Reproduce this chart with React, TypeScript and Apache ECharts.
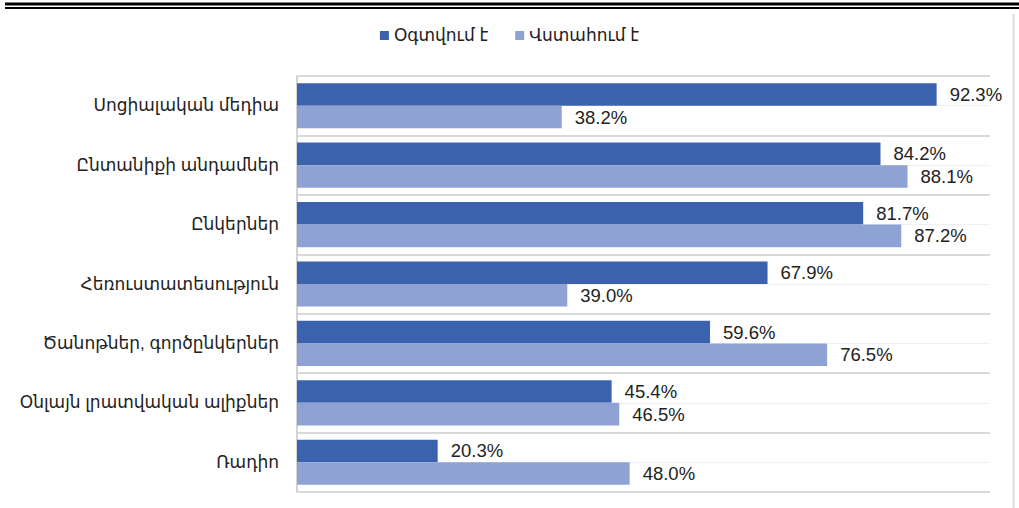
import React, { useEffect, useRef } from "react";
import * as echarts from "echarts";

const categories = [
  "Սոցիալական մեդիա",
  "Ընտանիքի անդամներ",
  "Ընկերներ",
  "Հեռուստատեսություն",
  "Ծանոթներ, գործընկերներ",
  "Օնլայն լրատվական ալիքներ",
  "Ռադիո",
];
const seriesNames = ["Օգտվում է", "Վստահում է"];
const useValues = [92.3, 84.2, 81.7, 67.9, 59.6, 45.4, 20.3];
const trustValues = [38.2, 88.1, 87.2, 39.0, 76.5, 46.5, 48.0];

const FONT = "'Liberation Sans', Arial, 'DejaVu Sans', sans-serif";

export default function App() {
  const ref = useRef<HTMLDivElement>(null);
  useEffect(() => {
    if (!ref.current) return;
    const chart = echarts.init(ref.current, undefined, { renderer: "svg" });
    const label = {
      show: true,
      position: "right",
      distance: 13,
      color: "#222",
      fontSize: 18.5,
      fontFamily: FONT,
      formatter: (p: any) => Number(p.value).toFixed(1) + "%",
    };
    chart.setOption({
      animation: false,
      backgroundColor: "#fff",
      textStyle: { fontFamily: FONT },
      legend: {
        top: 22,
        left: "center",
        itemWidth: 9,
        itemHeight: 9,
        itemGap: 27,
        icon: "rect",
        textStyle: { fontSize: 17, color: "#222", fontFamily: FONT },
        data: seriesNames,
      },
      grid: { left: 297, right: 29, top: 76, bottom: 16 },
      xAxis: {
        type: "value",
        min: 0,
        max: 100,
        show: false,
      },
      yAxis: [
        {
          type: "category",
          data: categories,
          inverse: true,
          axisLine: { show: true, lineStyle: { color: "#d4d4d4", width: 2 } },
          axisTick: { show: false },
          splitLine: { show: true, lineStyle: { color: "#d9d9d9", width: 2 } },
          axisLabel: { margin: 18, fontSize: 17, color: "#222", fontFamily: FONT },
          z: 3,
        },
        {
          type: "value",
          min: 0,
          max: 14,
          interval: 1,
          position: "right",
          axisLine: { show: false },
          axisTick: { show: false },
          axisLabel: { show: false },
          splitLine: { show: true, lineStyle: { color: "#f0f0f0", width: 1 } },
          z: 1,
        },
      ],
      series: [
        {
          name: seriesNames[0],
          type: "bar",
          yAxisIndex: 0,
          data: useValues,
          barGap: "0%",
          barCategoryGap: "24%",
          itemStyle: { color: "#3B63AD" },
          label,
          z: 4,
        },
        {
          name: seriesNames[1],
          type: "bar",
          yAxisIndex: 0,
          data: trustValues,
          barGap: "0%",
          barCategoryGap: "24%",
          itemStyle: { color: "#8FA2D4" },
          label,
          z: 4,
        },
      ],
      graphic: [
        { type: "line", shape: { x1: 5, y1: 4, x2: 1019, y2: 4 }, style: { stroke: "#000", lineWidth: 3 } },
        { type: "line", shape: { x1: 5, y1: 8, x2: 1019, y2: 8 }, style: { stroke: "#000", lineWidth: 2 } },
        { type: "line", shape: { x1: 1013.5, y1: 14, x2: 1013.5, y2: 508 }, style: { stroke: "#dcdcdc", lineWidth: 2 } },
      ],
    });
    return () => chart.dispose();
  }, []);
  return (
    <div
      ref={ref}
      style={{ position: "fixed", left: 0, top: 0, width: 1019, height: 508 }}
    />
  );
}
